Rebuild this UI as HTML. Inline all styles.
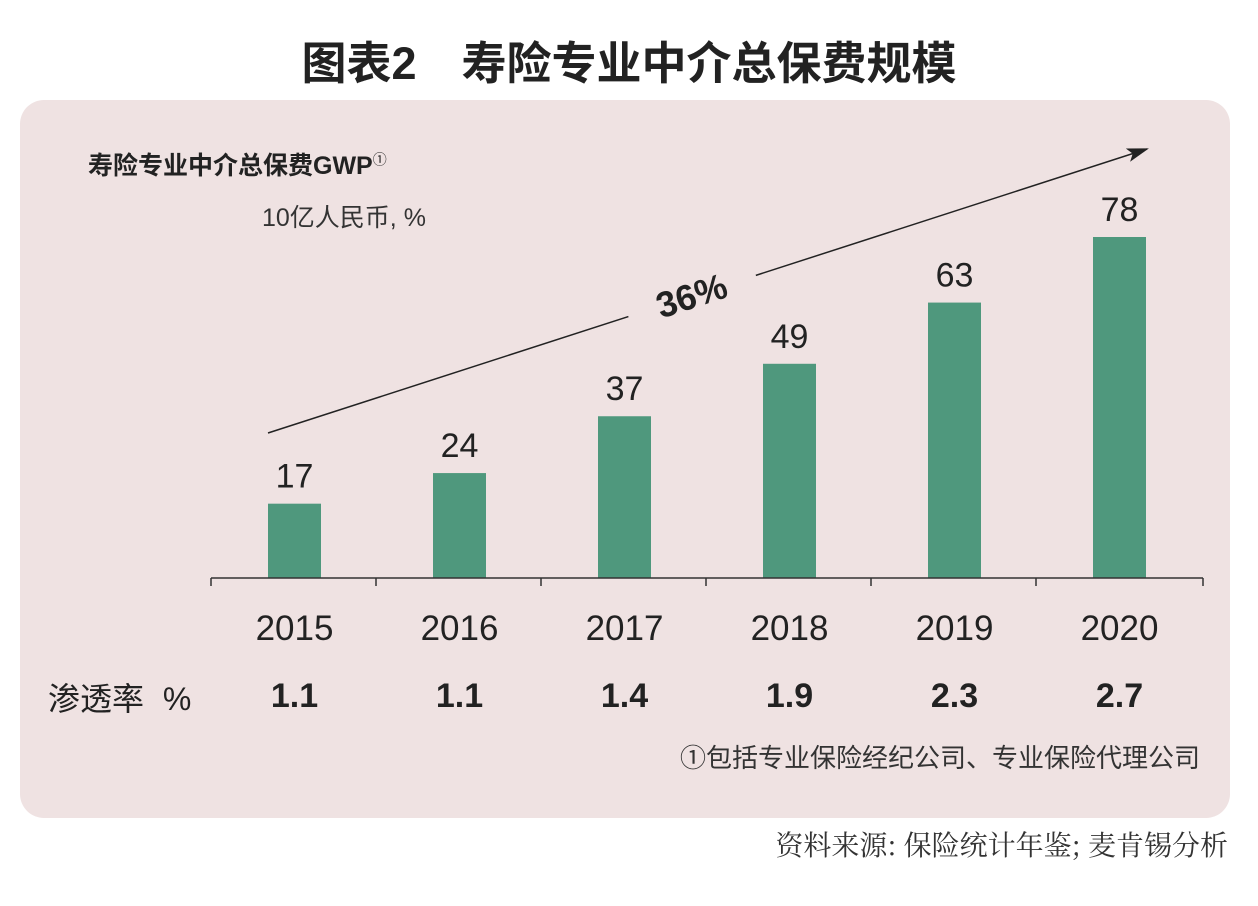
<!DOCTYPE html>
<html><head><meta charset="utf-8"><style>
body{margin:0;width:1258px;height:906px;background:#fff;font-family:"Liberation Sans","Noto Sans CJK SC",sans-serif;overflow:hidden;position:relative}
.t{position:absolute;white-space:nowrap}
</style></head><body>
<div class="t" style="left:0;width:1258px;text-align:center;top:27px;font-size:45px;font-weight:bold;color:#222">图表2　寿险专业中介总保费规模</div>
<div style="position:absolute;left:20px;top:100px;width:1210px;height:718px;background:#efe2e2;border-radius:24px"></div>
<div class="t" style="left:88px;top:146px;font-size:25px;font-weight:bold;color:#222">寿险专业中介总保费GWP<sup style="font-size:14px;font-weight:normal">①</sup></div>
<div class="t" style="left:262px;top:198px;font-size:25px;color:#333">10亿人民币, %</div>
<svg id="chart" width="1258" height="906" style="position:absolute;left:0;top:0">
<defs><marker id="ah" markerWidth="22" markerHeight="16" refX="20" refY="8" orient="auto" markerUnits="userSpaceOnUse"><path d="M0,1 L22,8 L0,15 L5,8z" fill="#222"/></marker></defs>
</svg>
<div class="t" style="left:48px;top:674px;font-size:32px;color:#222;word-spacing:10px">渗透率 %</div>
<div class="t" style="right:58px;top:738px;font-size:26px;color:#333">①包括专业保险经纪公司、专业保险代理公司</div>
<div class="t" style="right:30px;top:824px;font-size:28px;color:#333;font-family:'Noto Serif CJK SC','Liberation Serif',serif">资料来源: 保险统计年鉴; 麦肯锡分析</div>
<script>
const years=['2015','2016','2017','2018','2019','2020'];
const values=[17,24,37,49,63,78];
const rates=['1.1','1.1','1.4','1.9','2.3','2.7'];
const cagr='36%';
const svg=document.getElementById('chart');
const NS='http://www.w3.org/2000/svg';
const x0=212,step=165,base=578,k=341/78,bw=53;
const xc=i=>x0+step*(i+0.5);
const y=v=>base-v*k;
function mk(t,a){const e=document.createElementNS(NS,t);for(const n in a)e.setAttribute(n,a[n]);svg.appendChild(e);return e;}
years.forEach((yr,i)=>{
 const r=mk('rect',{x:xc(i)-bw/2,y:y(values[i]),width:bw,height:values[i]*k,fill:'#4f987d'});
 
 
 const v=mk('text',{x:xc(i),y:y(values[i])-16,'text-anchor':'middle','font-size':34,fill:'#222'});v.textContent=values[i];
 
 
 const l=mk('text',{x:xc(i),y:640,'text-anchor':'middle','font-size':35,fill:'#222'});l.textContent=yr;
 
 
 const rt=mk('text',{x:xc(i),y:707,'text-anchor':'middle','font-size':34,'font-weight':'bold',fill:'#222'});rt.textContent=rates[i];
 
 
});
const xEnd=1203;
const ax=mk('line',{x1:x0-1,y1:base,x2:xEnd,y2:base,stroke:'#333','stroke-width':1.5});


for(let i=0;i<=years.length;i++){const xx=i==years.length?xEnd:x0+step*i-1;const t=mk('line',{x1:xx,y1:base,x2:xx,y2:base+8,stroke:'#333','stroke-width':1.5});
 
 }
const ax1=268,ay1=433,ax2=1147,ay2=149;
const f=t=>[ax1+(ax2-ax1)*t,ay1+(ay2-ay1)*t];
const a=f(0.41),b=f(0.555);
const l1=mk('line',{x1:ax1,y1:ay1,x2:a[0],y2:a[1],stroke:'#222','stroke-width':1.5});


const l2=mk('line',{x1:b[0],y1:b[1],x2:ax2,y2:ay2,stroke:'#222','stroke-width':1.5,'marker-end':'url(#ah)'});


const m=f(0.482);
const ct=mk('text',{x:m[0],y:m[1]+12,'text-anchor':'middle','font-size':36,'font-weight':'bold',fill:'#222',transform:`rotate(-18 ${m[0]} ${m[1]})`});
ct.textContent=cagr;


</script>
</body></html>
